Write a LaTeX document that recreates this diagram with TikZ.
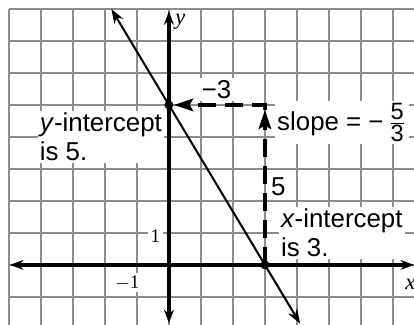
\documentclass[tikz,border=0pt]{standalone}
\usepackage{fontspec}
\setmainfont{Liberation Serif}
\setsansfont{Liberation Sans}
\usetikzlibrary{arrows.meta}
\begin{document}
\begin{tikzpicture}[x=.5cm,y=.5cm,
 gridline/.style={draw=black!45,line width=.7pt,step=.5cm},
 axis/.style={line width=1.5pt,{Stealth[length=6pt,width=4.4pt]}-{Stealth[length=6pt,width=4.4pt]}},
 graphline/.style={line width=.9pt,{Stealth[length=6.5pt,width=4.6pt]}-{Stealth[length=6.5pt,width=4.6pt]}},
 dot/.style={circle,fill=black,inner sep=0pt,minimum size=4pt},
 runrise/.style={line width=1.8pt,dash pattern=on 8pt off 4pt,-{Stealth[length=8.5pt,width=5.5pt,inset=1.5pt]}},
 lbl/.style={fill=white,inner sep=1pt,font=\sffamily\fontsize{11.5}{12.8}\selectfont,align=left},
 num/.style={fill=white,inner sep=1pt,font=\fontsize{8.5}{10}\selectfont}]
 \useasboundingbox (-5.28,-1.875) rectangle (7.66,8.28);
 \draw[gridline] (-5,-1.9) grid (7.7,8);
 \coordinate (xl) at (-4.97,0);
 \coordinate (xr) at (7.66,0);
 \coordinate (yt) at (0,7.93);
 \coordinate (yb) at (0,-1.82);
 \draw[axis] (xl) -- (xr);
 \draw[axis] (yb) -- (yt);
 \node[num] (one) at (-.42,.9) {1};
 \node[num] (mone) at (-1.3,-.56) {$-$1};
 \node[font=\itshape\fontsize{10}{12}\selectfont] (ylab) at (.36,7.6) {y};
 \node[font=\itshape\fontsize{10}{12}\selectfont] (xlab) at (7.55,-.6) {x};
 \coordinate (ltop) at (-1.8,8);
 \coordinate (lbot) at (4.1,-1.833);
 \draw[graphline] (ltop) -- (lbot);
 \node[dot] (yint) at (0,5) {};
 \node[dot] (xint) at (3,0) {};
 \coordinate (rise) at (3,4.85);
 \draw[runrise] (xint.center) -- (rise);
 \draw[runrise] (rise) |- (yint);
 \node[lbl] (run) at (1.49,5.47) {−3};
 \node[lbl] (up) at (3.42,2.45) {5};
 \node[lbl,anchor=west] (slope) at (3.3,4.45) {slope = −\,$\frac{\mbox{\fontsize{10.5}{11}\selectfont 5}}{\mbox{\fontsize{10.5}{11}\selectfont 3}}$};
 \node[lbl,anchor=west] (ytext) at (-4.12,4.0) {\textit{y}-intercept\\is 5.};
 \node[lbl,anchor=west] (xtext) at (3.42,1.0) {\textit{x}-intercept\\is 3.};
\end{tikzpicture}
\end{document}
